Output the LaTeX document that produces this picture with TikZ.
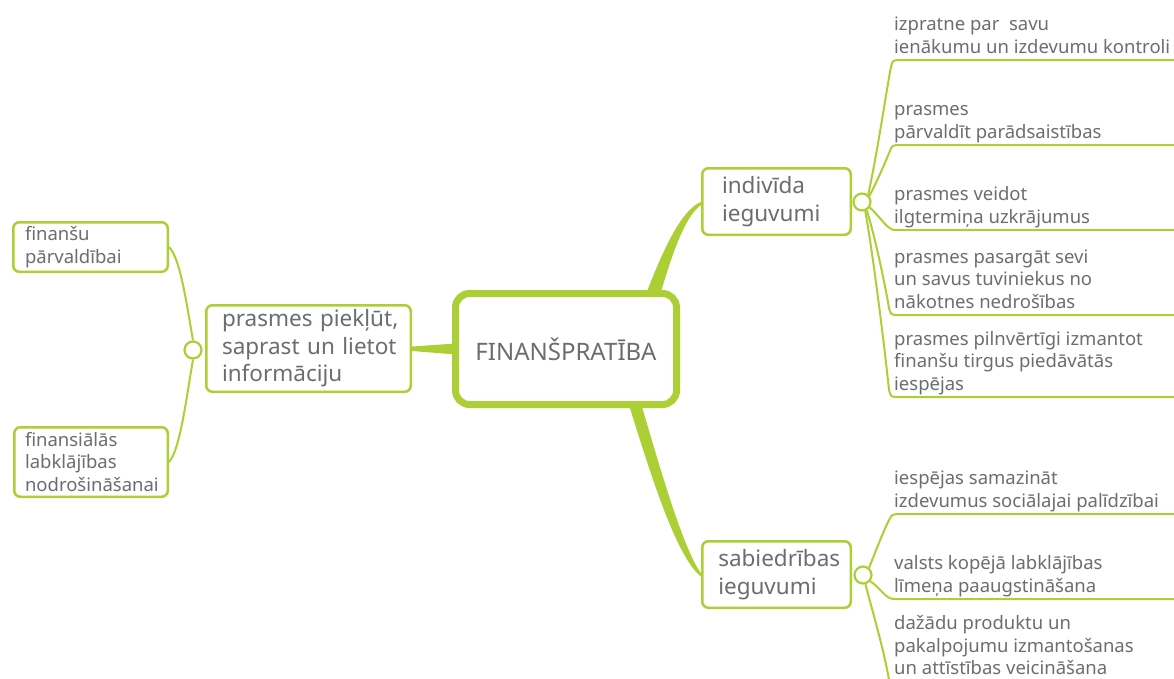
\documentclass[tikz,border=0pt]{standalone}
\usepackage{fontspec}
\setmainfont{Noto Sans}
\definecolor{gr}{RGB}{172,207,54}
\definecolor{tx}{RGB}{108,109,112}
\begin{document}
\begin{tikzpicture}[x=1pt,y=-1pt,
  box/.style={draw=gr,line width=2.5pt,rounded corners=6pt,fill=white,text=tx,align=left,inner ysep=0pt,font=\fontsize{22.5}{27.5}\selectfont},
  leafbox/.style={box,font=\fontsize{18.5}{22.5}\selectfont},
  hub/.style={circle,draw=gr,line width=2.2pt,fill=white,minimum size=17pt,inner sep=0pt},
  leaf/.style={anchor=base west,inner sep=0pt,text=tx,align=left,font=\fontsize{18.5}{22.5}\selectfont},
  wire/.style={draw=gr,line width=2pt},
  taper/.style={fill=gr}]
\useasboundingbox (0,0) rectangle (1174,678);
\clip (0,0) rectangle (1174,678);

% tapered branches from the centre
\fill[taper] (646,294) .. controls (660,258) and (680,209) .. (702,201.5) -- (702,204.5) .. controls (684,215) and (670,262) .. (659,298) -- cycle;
\fill[taper] (628,402) .. controls (650,472) and (676,558) .. (702,577.5) -- (702,574.5) .. controls (684,552) and (660,468) .. (640,400) -- cycle;
\fill[taper] (412,346.5) -- (456,343.5) -- (456,354.5) -- (412,351) -- cycle;

% main node
\node[draw=gr,line width=7pt,rounded corners=14pt,fill=white,text=tx,minimum width=221pt,minimum height=111pt,font=\fontsize{24}{28}\selectfont] (main) at (566,349) {FINANŠPRATĪBA};

% second level
\node[box,minimum width=204.5pt,minimum height=86.5pt,inner xsep=15.75pt,text width=173pt] (lm) at (308.5,348.5) {\mbox{prasmes piekļūt,}\\\mbox{saprast un lietot}\\\mbox{informāciju}};
\node[box,minimum width=148.5pt,minimum height=66.5pt,inner xsep=19.75pt,text width=109pt] (ind) at (776.5,201.5) {\mbox{indivīda}\\\mbox{ieguvumi}};
\node[box,minimum width=148.5pt,minimum height=66.5pt,inner xsep=16pt,text width=116.5pt] (sab) at (776.5,574.5) {\mbox{sabiedrības}\\\mbox{ieguvumi}};

% hubs
\node[hub] (c0) at (193,350) {};
\node[hub] (c1) at (862,202) {};
\node[hub] (c2) at (863,575) {};

% left leaves
\node[leafbox,minimum width=154.5pt,minimum height=49.5pt,inner xsep=11.75pt,text width=131pt] (f1) at (90.5,247) {\mbox{finanšu}\\\mbox{pārvaldībai}};
\node[leafbox,minimum width=153.5pt,minimum height=69.5pt,inner xsep=10.75pt,text width=132pt] (f2) at (91,462) {\mbox{finansiālās}\\\mbox{labklājības}\\\mbox{nodrošināšanai}};
\draw[wire] (c0.north) .. controls (186,300) and (180,258) .. (f1.east);
\draw[wire] (c0.south) .. controls (186,400) and (180,450) .. (f2.east);

% right leaves (individual); anchor = baseline of the last line
\node[leaf] (t1) at (894,53) {izpratne par~~savu\\ienākumu un izdevumu kontroli};
\node[leaf] (t2) at (894,138) {prasmes\\pārvaldīt parādsaistības};
\node[leaf] (t3) at (894,223) {prasmes veidot\\ilgtermiņa uzkrājumus};
\node[leaf] (t4) at (894,308) {prasmes pasargāt sevi\\un savus tuviniekus no\\nākotnes nedrošības};
\node[leaf] (t5) at (894,390) {prasmes pilnvērtīgi izmantot\\finanšu tirgus piedāvātās\\iespējas};
\coordinate (r1) at (1180,60);
\coordinate (r2) at (1180,145);
\coordinate (r3) at (1180,230);
\coordinate (r4) at (1180,315);
\coordinate (r5) at (1180,397);
\draw[wire] (c1.50) .. controls (878,150) and (888,80) .. (891,67) .. controls (892.5,60.5) .. (899,60) -- (r1);
\draw[wire] (c1.40) .. controls (878,180) and (886,160) .. (890,151) .. controls (892,145.5) .. (898,145) -- (r2);
\draw[wire] (c1.-35) .. controls (878,215) and (884,224) .. (889,227.5) .. controls (892,230) .. (898,230) -- (r3);
\draw[wire] (c1.-60) .. controls (876,240) and (886,290) .. (889,308) .. controls (891,315) .. (898,315) -- (r4);
\draw[wire] (c1.-70) .. controls (874,260) and (886,360) .. (889,390) .. controls (891,397) .. (898,397) -- (r5);

% right leaves (society)
\node[leaf] (u1) at (894,507) {iespējas samazināt\\izdevumus sociālajai palīdzībai};
\node[leaf] (u2) at (894,592) {valsts kopējā labklājības\\līmeņa paaugstināšana};
\node[leaf] (u3) at (894,674.5) {dažādu produktu un\\pakalpojumu izmantošanas\\un attīstības veicināšana};
\coordinate (s1) at (1180,514);
\coordinate (s2) at (1180,599);
\coordinate (s3) at (1180,688);
\draw[wire] (c2.50) .. controls (876,550) and (884,530) .. (889,520) .. controls (892,514.5) .. (898,514) -- (s1);
\draw[wire] (c2.-40) .. controls (880,588) and (885,597) .. (891,598.5) .. controls (893,599) .. (898,599) -- (s2);
\draw[wire] (c2.-75) .. controls (872,610) and (884,650) .. (889,680) .. controls (891,688) .. (898,688) -- (s3);
\end{tikzpicture}
\end{document}
